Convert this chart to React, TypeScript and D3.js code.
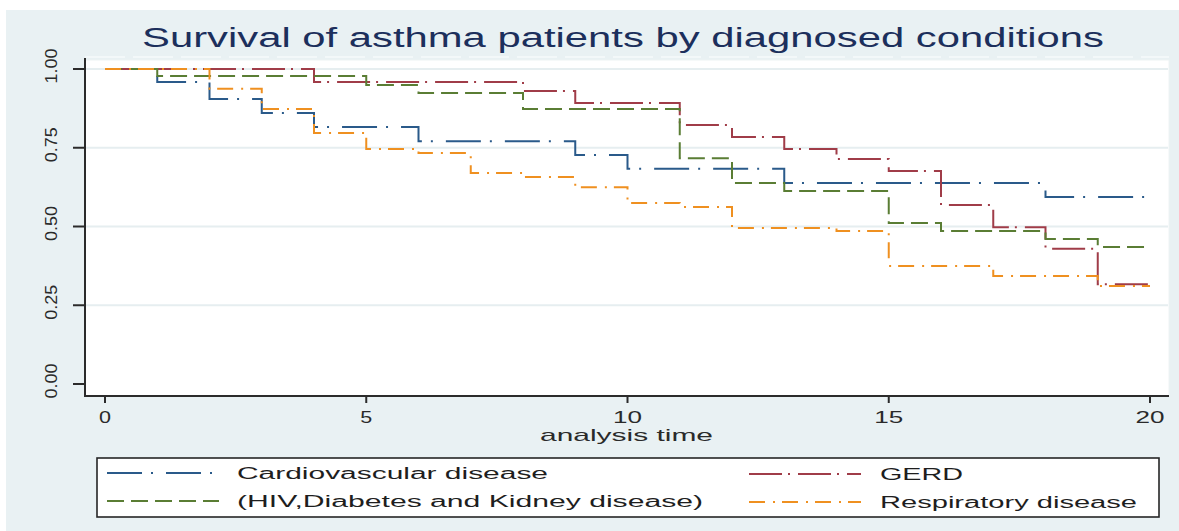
import React from "react";
import * as d3 from "d3";

// ---- Data (Kaplan-Meier step estimates) ----
const cardioTimes = [0, 1, 2, 3, 4, 6, 9, 10, 13, 18, 20];
const cardioSurv = [1, 0.959, 0.905, 0.86, 0.816, 0.771, 0.727, 0.683, 0.638, 0.594, 0.594];

const gerdTimes = [0, 4, 8, 9, 11, 12, 13, 14, 15, 16, 17, 18, 19, 20];
const gerdSurv = [1, 0.959, 0.93, 0.892, 0.822, 0.784, 0.746, 0.714, 0.676, 0.568, 0.498, 0.429, 0.317, 0.317];

const hivTimes = [0, 1, 5, 6, 8, 11, 12, 13, 15, 16, 18, 19, 20];
const hivSurv = [1, 0.978, 0.949, 0.924, 0.873, 0.717, 0.638, 0.613, 0.511, 0.486, 0.46, 0.435, 0.435];

const respTimes = [0, 2, 3, 4, 5, 6, 7, 8, 9, 10, 11, 12, 14, 15, 17, 19, 20];
const respSurv = [1, 0.937, 0.873, 0.797, 0.746, 0.733, 0.67, 0.657, 0.625, 0.575, 0.562, 0.495, 0.486, 0.375, 0.343, 0.311, 0.311];

const xTicks = [0, 5, 10, 15, 20];
const yTicks = [0, 0.25, 0.5, 0.75, 1];
const yTickLabels = ["0.00", "0.25", "0.50", "0.75", "1.00"];
const gridValues = [0.25, 0.5, 0.75, 1];

const seriesNames = [
  "Cardiovascular disease",
  "GERD",
  "(HIV,Diabetes and Kidney disease)",
  "Respiratory disease",
];

const titleText = "Survival of asthma patients by diagnosed conditions";
const xAxisTitle = "analysis time";

// ---- Styles ----
const FONT = "'Liberation Sans', Arial, Helvetica, sans-serif";
const BG = "#e9f1f3";

const series = [
  { name: seriesNames[0], t: cardioTimes, s: cardioSurv, color: "#2a5a8a", dash: "35 9 2 13" },
  { name: seriesNames[1], t: gerdTimes, s: gerdSurv, color: "#a03c48", dash: "33 6 2 8" },
  { name: seriesNames[2], t: hivTimes, s: hivSurv, color: "#5a7d34", dash: "17 7" },
  { name: seriesNames[3], t: respTimes, s: respSurv, color: "#ef9020", dash: "16 8 2 7" },
];

export default function App() {
  const W = 1179;
  const H = 531;
  const x = d3.scaleLinear().domain([0, 20]).range([105, 1150]);
  const y = d3.scaleLinear().domain([0, 1]).range([384, 69]);

  const plotLeft = 85;
  const plotRight = 1169;
  const plotTop = 60;
  const plotBottom = 396;

  const line = d3
    .line<[number, number]>()
    .x((d) => x(d[0]))
    .y((d) => y(d[1]))
    .curve(d3.curveStepAfter);

  const legendItems = [
    { ...series[0], lx: 107, ly: 473 },
    { ...series[1], lx: 749, ly: 474 },
    { ...series[2], lx: 107, ly: 501 },
    { ...series[3], lx: 749, ly: 502 },
  ];
  const legendTextX = [237, 880, 237, 880];
  const legendTextLen = [311, 83, 466, 257];

  return (
    <svg
      width={W}
      height={H}
      style={{ position: "absolute", left: 0, top: 0, display: "block" }}
      xmlns="http://www.w3.org/2000/svg"
    >
      <rect x={0} y={0} width={W} height={H} fill="#ffffff" />
      <rect x={6} y={10} width={W - 6} height={H - 10} fill={BG} />

      {/* title */}
      <text
        x={142}
        y={47}
        fontFamily={FONT}
        fontSize={27}
        fill="#1c2f5c"
        textLength={962}
        lengthAdjust="spacingAndGlyphs"
      >
        {titleText}
      </text>

      {/* plot region */}
      <line x1={plotLeft} x2={plotRight} y1={57} y2={57} stroke="#f6fafb" strokeWidth={1.5} strokeDasharray="40 8" />
      <rect x={plotLeft} y={plotTop} width={plotRight - plotLeft} height={plotBottom - plotTop} fill="#ffffff" stroke="#eef3f4" strokeWidth={1} />

      {/* grid */}
      {gridValues.map((v) => (
        <line key={v} x1={plotLeft} x2={plotRight - 1} y1={y(v)} y2={y(v)} stroke="#e6eef0" strokeWidth={2} />
      ))}

      {/* curves */}
      {series.map((sr) => (
        <path
          key={sr.name}
          d={line(sr.t.map((t, i) => [t, sr.s[i]] as [number, number])) || ""}
          fill="none"
          stroke={sr.color}
          strokeWidth={2}
          strokeDasharray={sr.dash}
        />
      ))}

      {/* axes */}
      <line x1={plotLeft} x2={plotLeft} y1={58} y2={plotBottom + 1} stroke="#2b2b2b" strokeWidth={2} />
      <line x1={plotLeft - 1} x2={plotRight} y1={plotBottom} y2={plotBottom} stroke="#2b2b2b" strokeWidth={2} />

      {yTicks.map((v, i) => (
        <g key={v}>
          <line x1={73} x2={plotLeft} y1={y(v)} y2={y(v)} stroke="#2b2b2b" strokeWidth={2} />
          <text
            transform={`translate(51,${y(v) - 3}) rotate(-90)`}
            textAnchor="middle"
            dominantBaseline="central"
            fontFamily={FONT}
            fontSize={17}
            fill="#2a2a2a"
            textLength={35}
            lengthAdjust="spacingAndGlyphs"
          >
            {yTickLabels[i]}
          </text>
        </g>
      ))}

      {xTicks.map((v) => (
        <g key={v}>
          <line x1={x(v)} x2={x(v)} y1={plotBottom} y2={plotBottom + 7} stroke="#2b2b2b" strokeWidth={2} />
          <text
            x={x(v)}
            y={423}
            textAnchor="middle"
            fontFamily={FONT}
            fontSize={17}
            fill="#2a2a2a"
            textLength={v >= 10 ? 29 : 12}
            lengthAdjust="spacingAndGlyphs"
          >
            {String(v)}
          </text>
        </g>
      ))}

      <text
        x={540}
        y={441}
        fontFamily={FONT}
        fontSize={17}
        fill="#2a2a2a"
        textLength={173}
        lengthAdjust="spacingAndGlyphs"
      >
        {xAxisTitle}
      </text>

      {/* legend */}
      <rect x={97} y={458} width={1062} height={59} fill="#ffffff" stroke="#262626" strokeWidth={1.6} />
      {legendItems.map((it, i) => (
        <g key={it.name}>
          <line
            x1={it.lx}
            x2={it.lx + 112}
            y1={it.ly}
            y2={it.ly}
            stroke={it.color}
            strokeWidth={2}
            strokeDasharray={it.dash}
          />
          <text
            x={legendTextX[i]}
            y={it.ly + 6}
            fontFamily={FONT}
            fontSize={16}
            fill="#1e1e1e"
            textLength={legendTextLen[i]}
            lengthAdjust="spacingAndGlyphs"
          >
            {it.name}
          </text>
        </g>
      ))}
    </svg>
  );
}
